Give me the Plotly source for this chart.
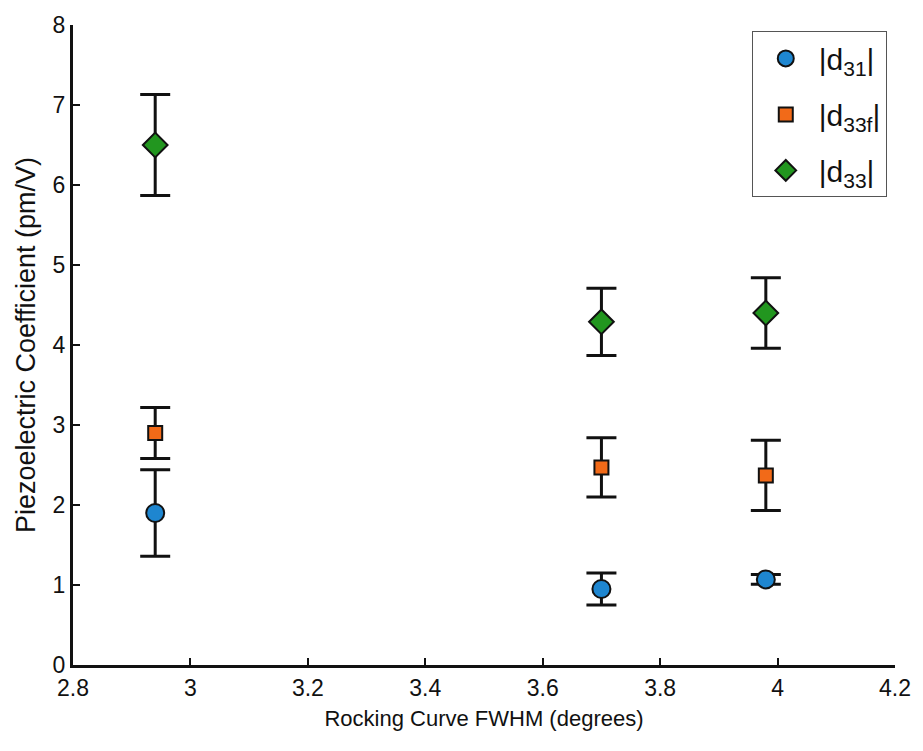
import plotly.graph_objects as go

# Rocking curve FWHM (degrees) for the three films
fwhm = [2.94, 3.70, 3.98]

# Piezoelectric coefficients (pm/V) and their uncertainties
d31 = [1.90, 0.95, 1.07]
d31_err = [0.54, 0.20, 0.06]

d33f = [2.90, 2.47, 2.37]
d33f_err = [0.32, 0.37, 0.44]

d33 = [6.50, 4.29, 4.40]
d33_err = [0.63, 0.42, 0.44]

series = [
    ("|d<sub>31</sub>|", d31, d31_err, "circle", "#1E86D0", 18),
    ("|d<sub>33f</sub>|", d33f, d33f_err, "square", "#F26A18", 14),
    ("|d<sub>33</sub>|", d33, d33_err, "diamond", "#22961F", 19),
]

fig = go.Figure()
for i, (name, vals, errs, sym, col, size) in enumerate(series):
    fig.add_trace(go.Scatter(
        x=fwhm, y=vals, mode="markers", name=name, legendgroup=f"g{i}",
        marker=dict(symbol=sym, size=size, color=col,
                    line=dict(color="#111111", width=2)),
        error_y=dict(type="data", array=errs, visible=True,
                     color="#111111", thickness=3, width=15),
    ))

font = "Liberation Sans, Arial, Helvetica, sans-serif"
fig.update_layout(
    width=923, height=751,
    margin=dict(l=73, r=28, t=16, b=86),
    paper_bgcolor="white", plot_bgcolor="white",
    font=dict(family=font, size=22, color="#111111"),
    showlegend=True,
    legend=dict(x=0.99, y=0.99, xanchor="right", yanchor="top",
                bordercolor="#555555", borderwidth=1, bgcolor="white",
                font=dict(size=30, family=font), itemwidth=56,
                tracegroupgap=14),
    xaxis=dict(range=[2.8, 4.2], dtick=0.2, tick0=2.8, showgrid=False,
               zeroline=False, showline=True, linecolor="#111111", linewidth=3,
               ticks="inside", ticklen=7, tickwidth=2, tickcolor="#111111",
               tickfont=dict(size=23),
               title=dict(text="Rocking Curve FWHM (degrees)",
                          font=dict(size=22), standoff=12)),
    yaxis=dict(range=[0, 8], dtick=1, showgrid=False, zeroline=False,
               showline=True, linecolor="#111111", linewidth=3,
               ticks="inside", ticklen=7, tickwidth=2, tickcolor="#111111",
               tickfont=dict(size=23),
               title=dict(text="Piezoelectric Coefficient (pm/V)",
                          font=dict(size=27), standoff=10)),
)

fig.write_html("out.html")
